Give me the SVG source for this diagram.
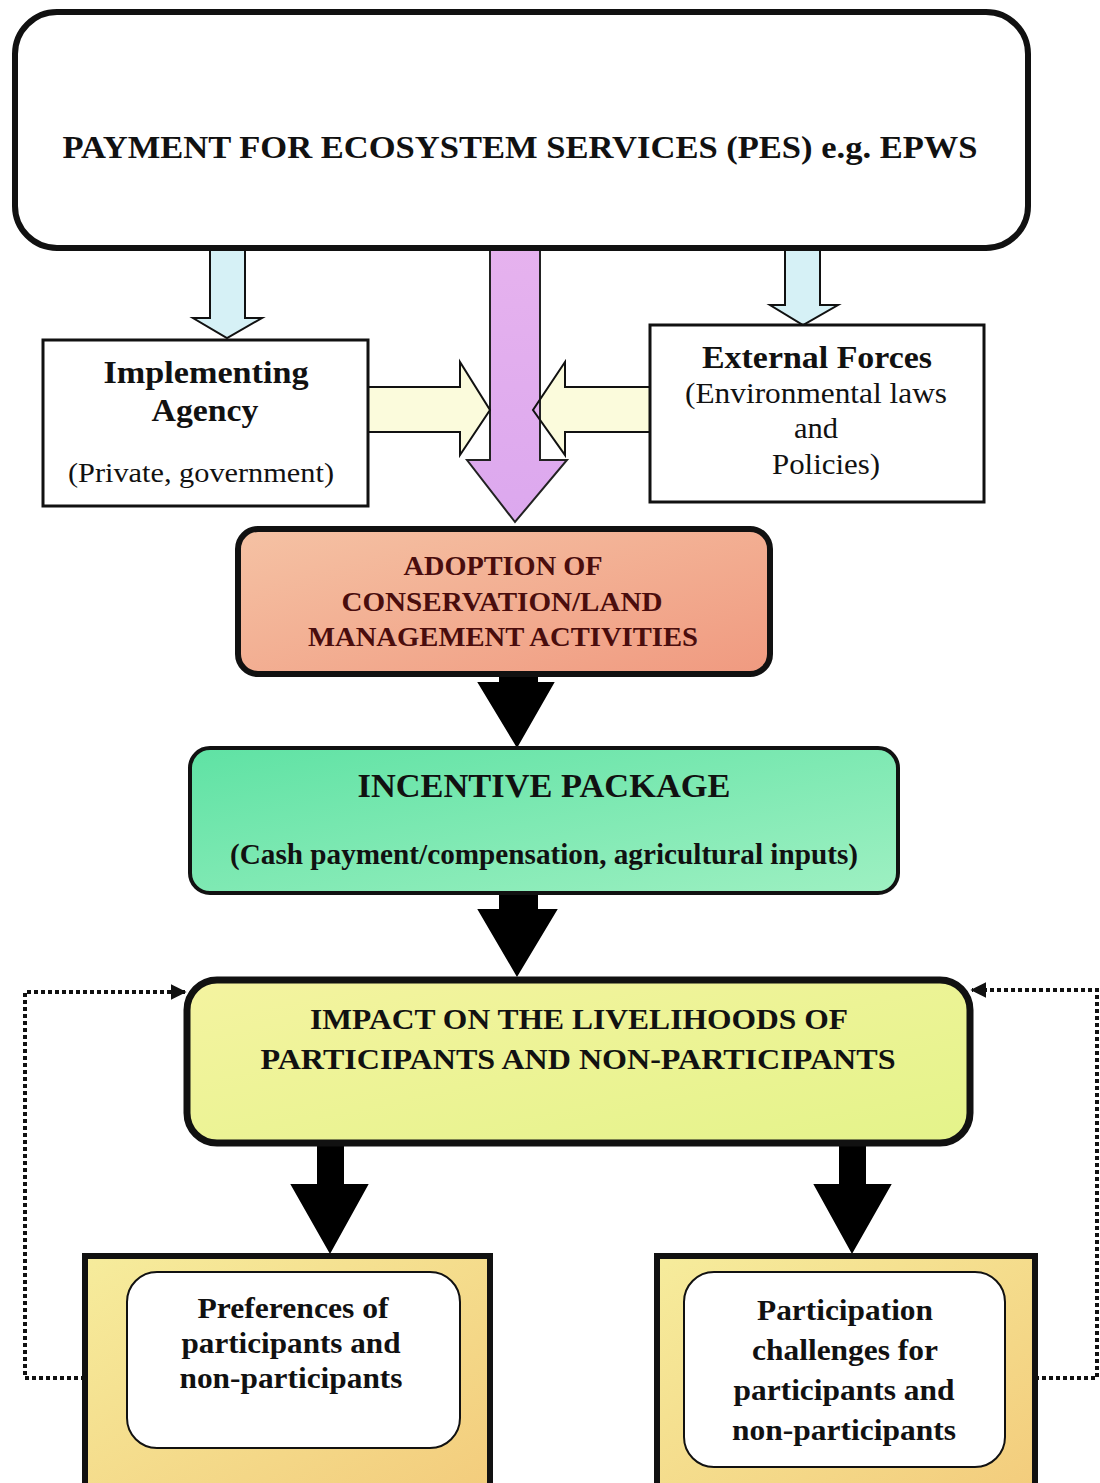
<svg xmlns="http://www.w3.org/2000/svg" width="1100" height="1483" viewBox="0 0 1100 1483">
<style>
text{font-family:"Liberation Serif","Times New Roman",serif;font-weight:bold;text-anchor:middle;fill:#111}
.reg{font-weight:normal}
.red{fill:#4a0d0d}
.blk{fill:#000;stroke:#000;stroke-width:2}
.blue{fill:#d6f1f6;stroke:#111;stroke-width:2}
.yel{fill:#fbfbdc;stroke:none}
.yelo{fill:none;stroke:#111;stroke-width:2}
.dot{fill:none;stroke:#111;stroke-width:4;stroke-dasharray:4 3}
</style>
<defs>
<linearGradient id="gSal" x1="0" y1="0" x2="1" y2="1"><stop offset="0" stop-color="#f5c2a4"/><stop offset="1" stop-color="#f09a80"/></linearGradient>
<linearGradient id="gGrn" x1="0" y1="0" x2="1" y2="1"><stop offset="0" stop-color="#5fe2a4"/><stop offset="1" stop-color="#9ef0c2"/></linearGradient>
<linearGradient id="gImp" x1="0" y1="0" x2="1" y2="1"><stop offset="0" stop-color="#f4f3a0"/><stop offset="1" stop-color="#e4f38a"/></linearGradient>
<linearGradient id="gBox" x1="0" y1="0" x2="1" y2="1"><stop offset="0" stop-color="#f6ec9c"/><stop offset="1" stop-color="#f3cc7c"/></linearGradient>
<linearGradient id="gPur" x1="0" y1="0" x2="0" y2="1"><stop offset="0" stop-color="#e6b2ee"/><stop offset="1" stop-color="#dca8ee"/></linearGradient>
<marker id="ah" viewBox="0 0 10 10" refX="9" refY="5" markerWidth="4" markerHeight="4" orient="auto"><path d="M0,0 L10,5 L0,10 z" fill="#111"/></marker>
</defs>

<g id="connectors">
<path class="blue" d="M210,250 H245 V318 H262 L227,338 L193,318 H210 Z"/>
<path class="blue" d="M785,250 H820 V305 H838 L803,325 L770,305 H785 Z"/>
<path class="yel" d="M368,387 H460 V362 L490,410 L460,455 V432 H368 Z"/>
<path class="yel" d="M650,387 H565 V362 L533,410 L565,455 V432 H650 Z"/>
<path d="M490,250 H540 V460 H567 L515,522 L467,460 H490 Z" fill="url(#gPur)" stroke="#222" stroke-width="2"/>
<path class="yelo" d="M368,387 H460 V362 L490,410 L460,455 V432 H368"/>
<path class="yelo" d="M650,387 H565 V362 L533,410 L565,455 V432 H650"/>
<path class="blk" d="M500,674 H537 V683 H553 L517,746 L479,683 H500 Z"/>
<path class="blk" d="M500,893 H537 V910 H556 L517,975 L479,910 H500 Z"/>
<path class="blk" d="M318,1143 H343 V1185 H367 L330,1252 L292,1185 H318 Z"/>
<path class="blk" d="M840,1143 H865 V1185 H890 L852,1252 L815,1185 H840 Z"/>
<path class="dot" d="M85,1378 H25 V992 H185" marker-end="url(#ah)"/>
<path class="dot" d="M1035,1378 H1097 V990 H972" marker-end="url(#ah)"/>
</g>

<g id="pes">
<rect x="15" y="12" width="1013" height="236" rx="42" fill="#fff" stroke="#111" stroke-width="6"/>
<text x="520" y="158" font-size="32" textLength="915" lengthAdjust="spacingAndGlyphs">PAYMENT FOR ECOSYSTEM SERVICES (PES) e.g. EPWS</text>
</g>

<g id="agency">
<rect x="43" y="340" width="325" height="166" fill="#fff" stroke="#111" stroke-width="3"/>
<text x="206" y="383" font-size="32" textLength="205" lengthAdjust="spacingAndGlyphs">Implementing</text>
<text x="205" y="421" font-size="32" textLength="107" lengthAdjust="spacingAndGlyphs">Agency</text>
<text x="201" y="482" font-size="27" class="reg" textLength="266" lengthAdjust="spacingAndGlyphs">(Private, government)</text>
</g>

<g id="external">
<rect x="650" y="325" width="334" height="177" fill="#fff" stroke="#111" stroke-width="3"/>
<text x="817" y="368" font-size="31" textLength="230" lengthAdjust="spacingAndGlyphs">External Forces</text>
<text x="816" y="403" font-size="29" class="reg" textLength="262" lengthAdjust="spacingAndGlyphs">(Environmental laws</text>
<text x="816" y="438" font-size="29" class="reg" textLength="44" lengthAdjust="spacingAndGlyphs">and</text>
<text x="826" y="474" font-size="29" class="reg" textLength="108" lengthAdjust="spacingAndGlyphs">Policies)</text>
</g>

<g id="adoption">
<rect x="238" y="529" width="532" height="145" rx="20" fill="url(#gSal)" stroke="#111" stroke-width="6"/>
<text class="red" x="503" y="575" font-size="27" textLength="199" lengthAdjust="spacingAndGlyphs">ADOPTION OF</text>
<text class="red" x="502" y="611" font-size="27" textLength="321" lengthAdjust="spacingAndGlyphs">CONSERVATION/LAND</text>
<text class="red" x="503" y="646" font-size="27" textLength="390" lengthAdjust="spacingAndGlyphs">MANAGEMENT ACTIVITIES</text>
</g>

<g id="incentive">
<rect x="190" y="748" width="708" height="145" rx="20" fill="url(#gGrn)" stroke="#111" stroke-width="4"/>
<text x="544" y="797" font-size="33" textLength="373" lengthAdjust="spacingAndGlyphs">INCENTIVE PACKAGE</text>
<text x="544" y="864" font-size="29" textLength="628" lengthAdjust="spacingAndGlyphs">(Cash payment/compensation, agricultural inputs)</text>
</g>

<g id="impact">
<rect x="187" y="980" width="783" height="163" rx="30" fill="url(#gImp)" stroke="#111" stroke-width="7"/>
<text x="579" y="1029" font-size="30" textLength="538" lengthAdjust="spacingAndGlyphs">IMPACT ON THE LIVELIHOODS OF</text>
<text x="578" y="1069" font-size="30" textLength="635" lengthAdjust="spacingAndGlyphs">PARTICIPANTS AND NON-PARTICIPANTS</text>
</g>

<g id="preferences">
<rect x="85" y="1256" width="405" height="240" fill="url(#gBox)" stroke="#111" stroke-width="6"/>
<rect x="127" y="1272" width="333" height="176" rx="30" fill="#fff" stroke="#111" stroke-width="2"/>
<text x="293" y="1318" font-size="30" textLength="191" lengthAdjust="spacingAndGlyphs">Preferences of</text>
<text x="291" y="1353" font-size="30" textLength="219" lengthAdjust="spacingAndGlyphs">participants and</text>
<text x="291" y="1388" font-size="30" textLength="223" lengthAdjust="spacingAndGlyphs">non-participants</text>
</g>

<g id="challenges">
<rect x="657" y="1256" width="378" height="240" fill="url(#gBox)" stroke="#111" stroke-width="6"/>
<rect x="684" y="1272" width="321" height="195" rx="30" fill="#fff" stroke="#111" stroke-width="2"/>
<text x="845" y="1320" font-size="30" textLength="176" lengthAdjust="spacingAndGlyphs">Participation</text>
<text x="845" y="1360" font-size="30" textLength="186" lengthAdjust="spacingAndGlyphs">challenges for</text>
<text x="844" y="1400" font-size="30" textLength="221" lengthAdjust="spacingAndGlyphs">participants and</text>
<text x="844" y="1440" font-size="30" textLength="224" lengthAdjust="spacingAndGlyphs">non-participants</text>
</g>
</svg>
